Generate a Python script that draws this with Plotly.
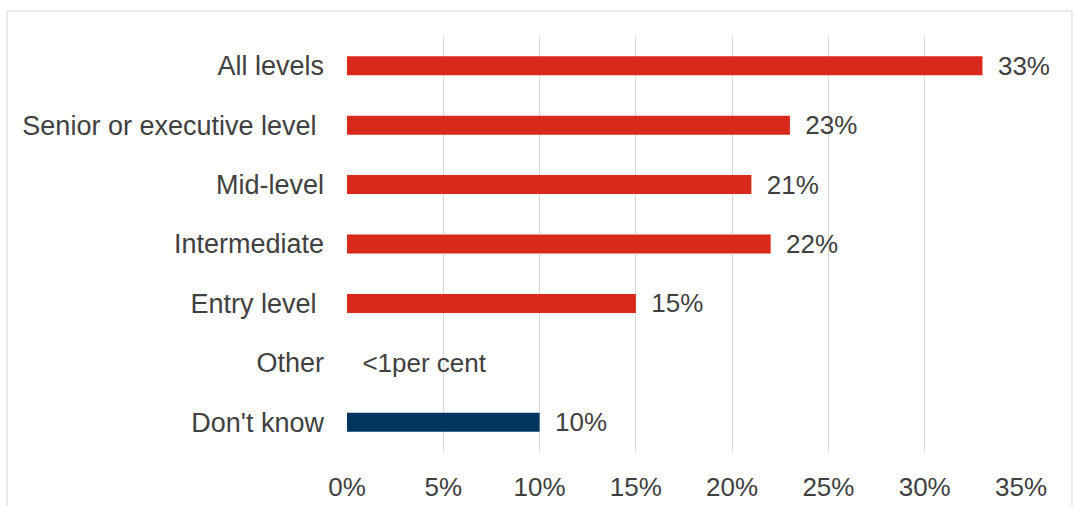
import plotly.graph_objects as go

categories = ["All levels", "Senior or executive level\u00a0", "Mid-level", "Intermediate",
              "Entry level\u00a0", "Other", "Don't know"]
values = [33, 23, 21, 22, 15, 0, 10]
value_labels = ["33%", "23%", "21%", "22%", "15%", "<1per cent", "10%"]
bar_colors = ["#d9291c", "#d9291c", "#d9291c", "#d9291c", "#d9291c", "#d9291c", "#003560"]
tick_values = [0, 5, 10, 15, 20, 25, 30, 35]
tick_labels = ["0%", "5%", "10%", "15%", "20%", "25%", "30%", "35%"]

FONT = "Liberation Sans, Arial, sans-serif"
TXT = "#404040"

fig = go.Figure()
fig.add_trace(go.Bar(
    x=values, y=categories, orientation="h",
    marker=dict(color=bar_colors, line=dict(width=0)),
    width=0.32,
    text=["\u00a0\u2009" + t for t in value_labels],
    textposition="outside",
    constraintext="none",
    textfont=dict(family=FONT, size=26, color=TXT),
    outsidetextfont=dict(family=FONT, size=26, color=TXT),
    cliponaxis=False,
    hoverinfo="skip",
))

W, H = 1074, 506
L, T = 347, 36
R = W - 1021
B = H - 452
pw = W - L - R
ph = H - T - B

fig.update_layout(
    width=W, height=H,
    margin=dict(l=L, r=R, t=T, b=B, pad=0, autoexpand=False),
    paper_bgcolor="white", plot_bgcolor="white",
    showlegend=False,
    font=dict(family=FONT, size=26, color=TXT),
    xaxis=dict(
        range=[0, 35], tickvals=tick_values, ticktext=tick_labels,
        showgrid=True, gridcolor="#d9d9d9", gridwidth=1,
        zeroline=False, showline=False, ticks="",
        tickfont=dict(family=FONT, size=26, color=TXT),
        ticklabelstandoff=17, automargin=False,
        fixedrange=True,
    ),
    yaxis=dict(
        autorange="reversed", showgrid=False, zeroline=False, showline=False,
        ticks="", tickfont=dict(family=FONT, size=27, color=TXT),
        ticklabelstandoff=22, automargin=False,
        fixedrange=True,
    ),
    shapes=[dict(
        type="rect", xref="paper", yref="paper",
        x0=(7 - L) / pw, x1=(1072 - L) / pw,
        y0=-0.3, y1=(H - B - 11) / ph,
        line=dict(color="#d9d9d9", width=1), fillcolor="rgba(0,0,0,0)", layer="below",
    )],
)

fig.write_html(
    "out.html",
    config={"displayModeBar": False, "staticPlot": True},
    post_script="document.body.style.margin='0';document.body.style.padding='0';"
                "document.body.style.overflow='hidden';",
)
